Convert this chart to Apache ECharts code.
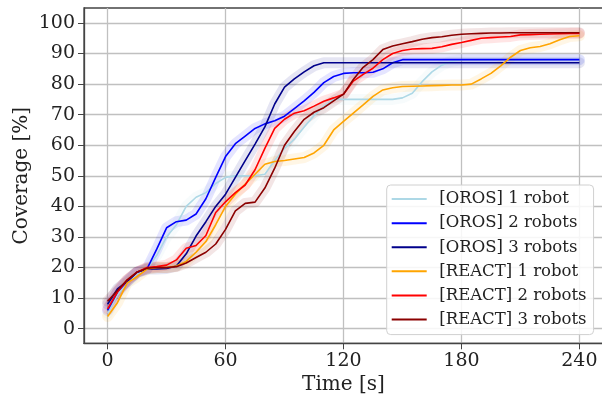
<!DOCTYPE html>
<html>
<head>
<meta charset="utf-8">
<script src="https://cdn.jsdelivr.net/npm/echarts@6/dist/echarts.min.js"></script>
<style>
  html,body{margin:0;padding:0;background:#fff;}
  #chart{width:602px;height:394px;}
</style>
</head>
<body>
<div id="chart"></div>
<script>
const chart=echarts.init(document.getElementById('chart'));

// time axis (s), one reading every 5 s
const times=[0,5,10,15,20,25,30,35,40,45,50,55,60,65,70,75,80,85,90,95,100,105,110,115,120,125,130,135,140,145,150,155,160,165,170,175,180,185,190,195,200,205,210,215,220,225,230,235,240];
const xTicks=[0,60,120,180,240];
const yTicks=[0,10,20,30,40,50,60,70,80,90,100];

// coverage [%]
const oros1=[5,11,15,18,19.5,24,30,34,40,43,44.5,47.5,49.5,50,50,50,50.5,55,59,62,66,69.7,72.8,75,75,75,75,75,75,75,75.5,77,80.8,84,86.2,87.5,88,88,88,88,88,88,88,88,88,88,88,88,88];
const oros2=[6,12,15.5,18.5,19.5,26,33,35,35.5,37.5,42.5,49.5,56.3,60.5,63,65.5,67,68,69.5,72,74.5,77.3,80.5,82.5,83.5,83.7,83.7,83.9,85,87,88,88,88,88,88,88,88,88,88,88,88,88,88,88,88,88,88,88,88];
const oros3=[8,13,15.5,18.5,19.5,19.5,19.7,20.5,24.5,30.3,35,40,44,49.5,55,60.4,66,73.5,79,81.7,84,86,87,87,87,87,87,87,87,87,87,87,87,87,87,87,87,87,87,87,87,87,87,87,87,87,87,87,87];
const react1=[4,8.5,15,17,19.5,20,20,20.5,22,25,28.5,34,40,44,47.3,50.5,53.8,54.7,55,55.5,56,57.5,60,65,67.8,70.5,73.2,76,78.1,78.8,79.2,79.3,79.4,79.5,79.6,79.7,79.7,80,81.7,83.5,86,88.8,91,91.9,92.3,93.2,94.5,95.6,95.8];
const react2=[6.5,12,16,18.5,20,20.3,20.8,22.5,26.3,27.2,30.5,38,41.5,44.5,47,52,59,65.5,68.5,70.5,71.3,72.8,74.4,75.5,76.7,81,83.2,85.2,88,90,91,91.5,91.6,91.7,92.2,93,93.6,94.3,95,95.2,95.4,95.6,96.1,96.2,96.3,96.4,96.5,96.6,96.6];
const react3=[9,12.5,16,18.5,19.8,20,20,20.3,21.5,23.3,25,27.7,32.5,38.5,41,41.4,46,52.5,60,64.5,68.5,70.8,72.3,74.5,76.7,81.5,85.5,88,91.3,92.5,93.2,93.9,94.7,95.2,95.5,96,96.3,96.5,96.6,96.7,96.7,96.8,96.8,96.8,96.8,96.8,96.8,96.8,96.8];

const names=['[OROS] 1 robot','[OROS] 2 robots','[OROS] 3 robots','[REACT] 1 robot','[REACT] 2 robots','[REACT] 3 robots'];
const colors=['#add8e6','#0000ff','#00008b','#ffa500','#ff0000','#8b0000'];
const values=[oros1,oros2,oros3,react1,react2,react3];

const serif='DejaVu Serif';
let series=[];
// shaded spread first, then the lines on top
values.forEach((v,i)=>{
  series.push({
    type:'line',
    data:times.map((t,k)=>[t,v[k]]),
    showSymbol:false,
    silent:true,
    z:1,
    lineStyle:{color:colors[i],width:11,opacity:0.1,cap:'round',join:'round'}
  });
});
values.forEach((v,i)=>{
  series.push({
    name:names[i],
    type:'line',
    data:times.map((t,k)=>[t,v[k]]),
    showSymbol:false,
    z:3,
    itemStyle:{color:colors[i]},
    lineStyle:{color:colors[i],width:1.6}
  });
});

chart.setOption({
  animation:false,
  grid:{left:84,top:8,width:519,height:335.3,show:true,borderColor:'#444',borderWidth:1.3,containLabel:false,outerBoundsMode:'none'},
  legend:{
    data:names,
    orient:'vertical',
    left:386.7,
    top:185,
    icon:'rect',
    itemWidth:35,
    itemHeight:2,
    itemGap:0,
    selectedMode:false,
    padding:[2,7,3,5],
    backgroundColor:'rgba(255,255,255,0.85)',
    borderColor:'#d0d0d0',
    borderWidth:1,
    borderRadius:4,
    textStyle:{fontFamily:serif,fontSize:16.5,lineHeight:24.1,color:'#222',padding:[0,0,0,7.6]}
  },
  xAxis:{
    type:'value',
    min:-12,
    max:252,
    name:'Time [s]',
    nameLocation:'middle',
    nameGap:31,
    nameMoveOverlap:false,
    nameTextStyle:{fontFamily:serif,fontSize:20,color:'#222'},
    axisLine:{show:true,onZero:false,lineStyle:{color:'#444',width:1.3}},
    axisTick:{show:true,length:6,customValues:xTicks,lineStyle:{color:'#444'}},
    axisLabel:{customValues:xTicks,fontFamily:serif,fontSize:19,color:'#222',margin:8},
    splitLine:{show:true,lineStyle:{color:'#c0c0c0',width:1.3}}
  },
  yAxis:{
    type:'value',
    min:-4.78,
    max:104.9,
    name:'Coverage [%]',
    nameLocation:'middle',
    nameGap:52,
    nameMoveOverlap:false,
    nameTextStyle:{fontFamily:serif,fontSize:20,color:'#222'},
    axisLine:{show:true,onZero:false,lineStyle:{color:'#444',width:1.3}},
    axisTick:{show:true,length:6,customValues:yTicks,lineStyle:{color:'#444'}},
    axisLabel:{customValues:yTicks,fontFamily:serif,fontSize:19,color:'#222',margin:9},
    splitLine:{show:true,lineStyle:{color:'#c0c0c0',width:1.3}}
  },
  series:series
});
</script>
</body>
</html>
